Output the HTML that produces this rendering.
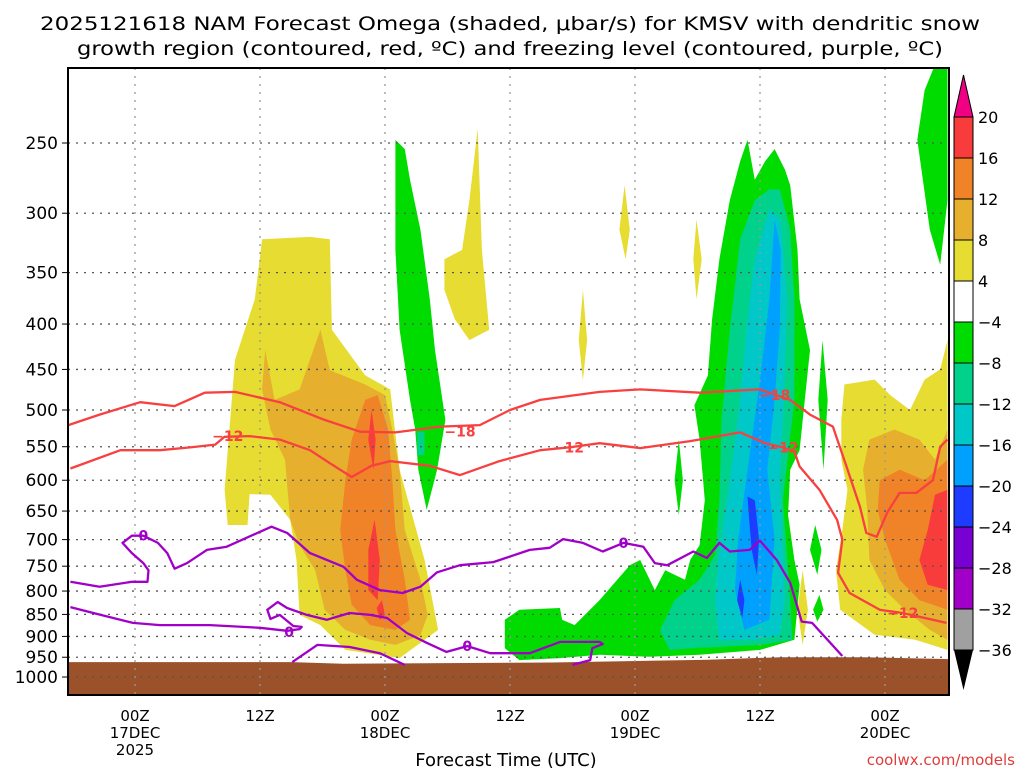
<!DOCTYPE html>
<html><head><meta charset="utf-8"><style>
body{margin:0;background:#fff;width:1024px;height:768px;overflow:hidden}
svg{display:block;font-family:"DejaVu Sans","Liberation Sans",sans-serif}
</style></head><body>
<svg id="chart" width="1024" height="768" viewBox="0 0 1024 768">
<text x="40" y="30" font-size="19" textLength="940" lengthAdjust="spacingAndGlyphs">2025121618 NAM Forecast Omega (shaded, μbar/s) for KMSV with dendritic snow</text>
<text x="77" y="55" font-size="19" textLength="866" lengthAdjust="spacingAndGlyphs">growth region (contoured, red, ºC) and freezing level (contoured, purple, ºC)</text>
<defs><clipPath id="plotclip"><rect x="68" y="68" width="881" height="627"/></clipPath></defs>
<g id="shade" clip-path="url(#plotclip)"></g>
<g id="ground" clip-path="url(#plotclip)"></g>
<g id="grid"></g>
<g id="contours" clip-path="url(#plotclip)"></g>
<g id="axes"></g>
<g id="cbar"></g>
<text x="506" y="766" font-size="18" text-anchor="middle">Forecast Time (UTC)</text>
<text x="1015" y="765" font-size="15" text-anchor="end" fill="#e03c3c">coolwx.com/models</text>
</svg>
<script>
const pressureTicks=[250,300,350,400,450,500,550,600,650,700,750,800,850,900,950,1000];
const timeTicks=[0,12,24,36,48,60,72];
const timeLabels=[["00Z","17DEC","2025"],["12Z"],["00Z","18DEC"],["12Z"],["00Z","19DEC"],["12Z"],["00Z","20DEC"]];
const cbarLevels=["20","16","12","8","4","-4","-8","-12","-16","-20","-24","-28","-32","-36"];
const cbarColors=["#f83c3c","#f08228","#e6af2d","#e6dc32","#ffffff","#00dc00","#00d28c","#00c8c8","#00a0ff","#1e3cff","#7800d2","#a000c8","#a0a0a0"];
const levelColor={4:"#e6dc32",8:"#e6af2d",12:"#f08228",16:"#f83c3c",m4:"#00dc00",m8:"#00d28c",m12:"#00c8c8",m16:"#00a0ff",m20:"#1e3cff"};
const shadeLevels=["4","4","4","4","4","4","4","8","8","12","12","16","16","16","16","m4","m8","m4","m4","m4","m4","m4","m4","m8","m12","m16","m20","m20"];
const shadePolys=[
[[12.2,321],[16.8,319],[18.7,321],[18.9,406],[22.1,457],[24.5,474],[25.4,584],[27.8,738],[29.1,885],[27.8,908],[25.4,952],[20.2,932],[17.8,874],[15.8,851],[15.5,738],[14.9,665],[13,623],[11,622],[10.8,674],[8.9,674],[8.6,615],[9.6,439],[11.5,375]],
[[31.4,330],[32.1,290],[32.9,241],[33.3,330],[34,406],[32.1,417],[30.7,395],[29.7,366],[29.7,338]],
[[47,279],[47.5,313],[47.1,338],[46.5,313]],
[[43,366],[43.4,417],[43,463],[42.6,417]],
[[53.9,305],[54.4,338],[53.9,375],[53.6,338]],
[[68.1,468],[71,462],[72.5,481],[74.4,500],[75.8,462],[77.3,450],[78,417],[78,932],[74.9,908],[71,896],[67.7,840],[67.3,758],[67.9,683],[68.4,615],[67.8,569],[67.8,513]],
[[64.1,758],[64.6,840],[64.1,920],[63.6,840]],
[[12.5,428],[13.4,487],[15.8,474],[17.8,406],[18.7,451],[22.1,468],[24,481],[24.7,526],[25.4,584],[25.9,683],[27.4,777],[28.1,851],[27.4,897],[25,920],[22.6,908],[20.2,885],[18.2,840],[17.3,758],[15.8,710],[14.9,665],[14.4,569],[13,526],[12.2,474]],
[[70.5,540],[72.9,526],[75.3,540],[76.8,569],[78,526],[78,908],[76.3,885],[73.9,840],[72,798],[70.5,738],[70.3,648],[69.9,584]],
[[22.1,487],[23.3,481],[24.3,526],[24.7,600],[25,683],[25.9,777],[26.4,862],[25,885],[22.6,874],[20.8,829],[20.2,758],[19.7,683],[20.2,600],[20.8,540]],
[[71.5,600],[73.4,584],[75.8,600],[78,569],[78,840],[75.3,819],[73.4,777],[72,700],[71.3,648]],
[[22.7,500],[23.1,540],[22.9,584],[22.4,540]],
[[23,665],[23.5,738],[23.3,819],[22.4,798],[22.4,719]],
[[23.7,819],[24,851],[23.5,862],[23.2,836]],
[[76.8,623],[78,615],[78,798],[76.1,787],[75.3,738],[76.1,683]],
[[25,248],[25.9,254],[26.4,275],[27.4,313],[28.3,375],[28.8,428],[29.8,513],[29,584],[28,648],[27.2,584],[26.9,526],[26.4,487],[25.4,406],[25,330]],
[[27.1,529],[27.8,529],[27.8,562],[27.1,562]],
[[35.5,862],[36.9,840],[40.8,836],[41,862],[42.2,874],[44.6,819],[47.5,748],[48.5,738],[49.9,798],[50.9,758],[52.8,777],[53.3,738],[54.2,710],[54.7,632],[54.2,540],[53.7,494],[55,457],[55.4,395],[56.1,338],[57.1,290],[58.1,262],[58.8,248],[59.5,275],[60.5,262],[61.4,254],[62.4,268],[62.9,279],[63.6,330],[63.8,375],[64.8,428],[64.3,487],[63.8,555],[62.9,584],[62.7,657],[63.3,738],[63.8,787],[63.3,908],[60,932],[54.2,944],[49.4,949],[44.6,944],[40.8,952],[36.9,957],[35.5,928]],
[[52.2,540],[52.6,600],[52.2,657],[51.8,600]],
[[66,417],[66.5,487],[66.1,584],[65.6,487]],
[[65.3,674],[65.9,719],[65.5,767],[64.8,719]],
[[65.7,808],[66.1,840],[65.5,866],[65.1,840]],
[[76.8,204],[78,204],[78,290],[77.3,343],[76.3,313],[75.1,248],[75.8,218]],
[[58.1,321],[59.5,290],[60.9,282],[61.9,282],[62.9,313],[63.3,375],[63.3,487],[62.2,632],[62.9,819],[63.1,908],[60,920],[54.2,927],[51.3,932],[50.4,885],[51.8,819],[54.2,777],[55.7,728],[56.1,632],[56.3,513],[57.1,406]],
[[59.5,338],[60.9,297],[62,305],[62.6,375],[62.3,487],[61.9,600],[62.4,819],[61.9,897],[59.5,908],[56.1,908],[55.7,819],[56,738],[57.1,600],[58.1,487],[58.8,395]],
[[61.4,305],[62,330],[61.9,406],[61.4,487],[60.7,584],[61.4,700],[60.9,862],[58.5,885],[57.6,798],[57.9,700],[58.8,584],[60,463],[60.9,375]],
[[58.8,626],[59.5,632],[59.9,700],[59.7,767],[59.2,719],[59,674]],
[[58.1,777],[58.5,819],[58.3,858],[57.8,819]]
];
const groundHours=[-7,15,20,40,55,62,70,79];
const groundPres=[962,962,966,963,956,950,950,955];
const dgzMinus18=[[-6.4,520],[-3.4,506],[0.5,490],[3.8,495],[6.7,478],[9.6,477],[13.9,490],[18.2,513],[21.6,529],[25,530],[29.3,522],[33.1,520],[36,500],[38.9,487],[44.6,477],[48.5,474],[54.2,478],[60,474],[62.9,487],[64.8,506],[67,522],[68.3,579],[69.6,643],[70.2,688],[71.2,695],[72.2,653],[73.4,620],[75,620],[76.6,600],[77.3,550],[78,540]];
const dgzMinus12=[[-6.2,582],[-1.4,555],[2.4,555],[5.3,551],[7.7,547],[8.6,536],[11,535],[13.9,540],[16.8,555],[18.7,574],[20.8,595],[22.7,578],[24.5,571],[28.3,578],[31.2,592],[35,571],[38.9,555],[41.7,551],[44.6,545],[48.5,552],[53.3,542],[58.1,530],[60.5,545],[62.2,551],[63.3,557],[63.8,579],[65.7,615],[67.4,665],[67.9,700],[67.5,763],[68.6,804],[71.5,840],[73.7,847],[77.9,869]];
const freezeA=[[-6.2,781],[-3.4,791],[-0.3,781],[1.2,781],[1.3,758],[0.8,744],[-0.3,725],[-1.2,706],[-0.3,693],[0.8,693],[2.2,706],[3.1,725],[3.8,755],[5,744],[6.9,719],[8.8,713],[12,686],[13.1,677],[14.6,688],[16.8,725],[20,751],[21.3,777],[23.5,798],[25.7,804],[27.4,791],[29,762],[31.2,748],[34.4,742],[37.9,719],[39.8,715],[41.1,699],[43,706],[44.9,722],[46.9,706],[48.8,713],[49.9,744],[51.1,748],[53.6,722],[54.9,734],[56.1,706],[57.1,722],[59,719],[60,702],[61.6,738],[62.9,783],[64,866],[65,869],[67.9,947]];
const freezeB=[[-6.2,834],[-4,847],[-0.2,869],[2.4,874],[7.2,874],[12,880],[14.6,887],[15.8,883],[16,878],[15.2,876],[13.9,851],[13,860],[12.7,840],[13.7,823],[14.6,836],[16.5,851],[18.4,862],[20.6,847],[22.6,851],[24.2,858],[26.1,892],[28,915],[29.9,937],[31.9,923],[34.1,940],[37.9,940],[40.8,913],[44.6,913],[44.9,918],[43.9,928],[43.7,957],[42,969]];
const freezeC=[[15.1,962],[17.5,920],[20.6,925],[23.5,940],[25.9,969]];
const redLabels=[["-18",31.2,529],["-18",61.4,481],["-12",8.9,535],["-12",41.6,551],["-12",62.2,551],["-12",73.7,847]];
const purpleLabels=[["0",0.8,693],["0",14.8,890],["0",31.9,923],["0",46.9,706]];

const NS="http://www.w3.org/2000/svg";
function xh(h){return 135+h*125/12;}
function yp(p){return 677-385.2*Math.log(1000/p);}
function mk(tag,parent,attrs){const e=document.createElementNS(NS,tag);for(const k in attrs)e.setAttribute(k,attrs[k]);parent.appendChild(e);return e;}
function pts(arr){return arr.map(d=>xh(d[0]).toFixed(1)+","+yp(d[1]).toFixed(1)).join(" ");}

const shade=document.getElementById("shade");
shadePolys.forEach((poly,i)=>{
  const e=mk("polygon",shade,{points:pts(poly),fill:levelColor[shadeLevels[i]]});
  
  
});
const groundG=document.getElementById("ground");
let gp=groundHours.map((h,i)=>xh(h).toFixed(1)+","+yp(groundPres[i]).toFixed(1));
gp.push(xh(79)+",700");gp.push(xh(-7)+",700");
const ge=mk("polygon",groundG,{points:gp.join(" "),fill:"#9b522b"});



const gridG=document.getElementById("grid");
const axesG=document.getElementById("axes");
pressureTicks.forEach(p=>{
  const y=yp(p);
  const l=mk("line",gridG,{x1:68,x2:948,y1:y,y2:y,stroke:"#555","stroke-width":1.3,"stroke-dasharray":"2 6"});
  
  
  const t=mk("text",axesG,{x:58,y:y+6,"font-size":17,"text-anchor":"end"});
  t.textContent=p;
  
  
  const tk=mk("line",axesG,{x1:62,x2:68,y1:y,y2:y,stroke:"#000","stroke-width":1});
  
  
});
timeTicks.forEach((h,i)=>{
  const x=xh(h);
  const l=mk("line",gridG,{x1:x,x2:x,y1:68,y2:695,stroke:"#999","stroke-width":1.3,"stroke-dasharray":"2 6"});
  
  
  timeLabels[i].forEach((s,j)=>{
    const t=mk("text",axesG,{x:x,y:721+j*17,"font-size":15,"text-anchor":"middle"});
    t.textContent=s;
    
    
  });
});
const frame=mk("rect",axesG,{x:68,y:68,width:881,height:627,fill:"none",stroke:"#000","stroke-width":2});



const cont=document.getElementById("contours");
[[dgzMinus18,"#f84040"],[dgzMinus12,"#f84040"],[freezeA,"#a000c8"],[freezeB,"#a000c8"],[freezeC,"#a000c8"]].forEach(([arr,c])=>{
  const e=mk("polyline",cont,{points:pts(arr),fill:"none",stroke:c,"stroke-width":2.3,"stroke-linejoin":"round"});
  
  
});
function lab(list,c){list.forEach(([s,h,p])=>{
  const t=mk("text",cont,{x:xh(h),y:yp(p)+5,"font-size":14,"font-weight":"bold","text-anchor":"middle",fill:c});
  t.textContent=s.replace("-","−");
  
  
});}
lab(redLabels,"#f84040");lab(purpleLabels,"#a000c8");

const cbG=document.getElementById("cbar");
const cbX=954,cbW=19,cbTop=117,cbSeg=(650-117)/13;
const tri=mk("polygon",cbG,{points:`${cbX},${cbTop} ${cbX+cbW},${cbTop} ${cbX+cbW/2},75`,fill:"#f00082",stroke:"#000","stroke-width":1});


cbarColors.forEach((c,i)=>{
  const r=mk("rect",cbG,{x:cbX,y:cbTop+i*cbSeg,width:cbW,height:cbSeg,fill:c,stroke:"#000","stroke-width":1});
  
  
});
const tri2=mk("polygon",cbG,{points:`${cbX},650 ${cbX+cbW},650 ${cbX+cbW/2},690`,fill:"#000"});


cbarLevels.forEach((s,i)=>{
  const t=mk("text",cbG,{x:978,y:cbTop+i*cbSeg+6,"font-size":16});
  t.textContent=s.replace("-","−");
  
  
});
</script>
</body></html>
